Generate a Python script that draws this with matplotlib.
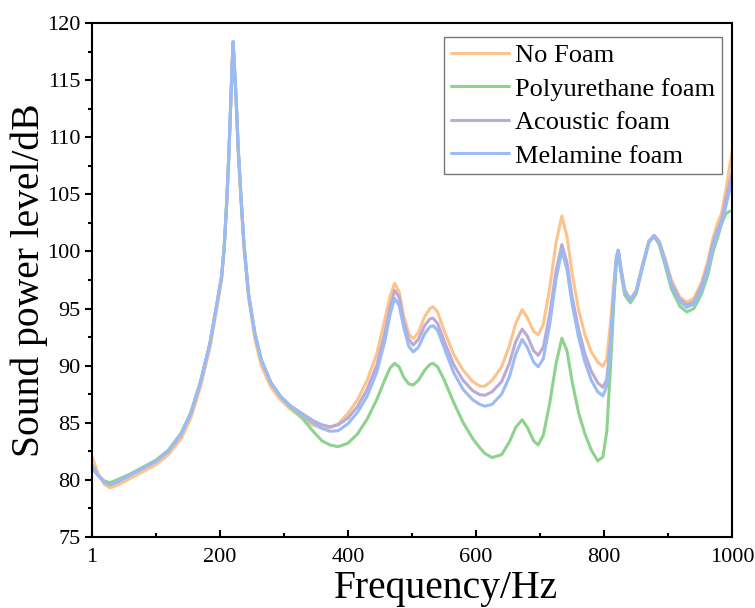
import matplotlib
matplotlib.use('Agg')
import matplotlib.pyplot as plt
import matplotlib.ticker as ticker

plt.rcParams['font.family'] = ['Liberation Serif', 'DejaVu Serif']

# frequency grid (Hz)
freq = [1, 10, 20, 29, 40, 60, 80, 100, 120, 140,
        155, 170, 185, 195, 203, 207, 211, 214, 217.5, 219.5,
        221, 223, 225.8, 229, 233.6, 238, 245, 255, 265, 280,
        295, 310, 326, 345, 360, 372, 385, 400, 415, 430,
        445, 458, 466, 473, 480, 487, 495, 502, 510, 520,
        528, 533, 540, 550, 565, 580, 595, 606, 614, 625,
        640, 652, 662, 672, 680, 690, 697, 705, 715, 725,
        734, 742, 750, 760, 770, 780, 790, 798, 804, 810,
        815, 819, 822, 826, 832, 841, 850, 860, 870, 878,
        886, 895, 905, 918, 929, 940, 952, 962, 970, 977,
        983, 990, 995, 1000]

no_foam = [82.0, 80.6, 79.6, 79.3, 79.5, 80.1, 80.7, 81.3, 82.2, 83.6,
           85.4, 88.1, 91.6, 94.8, 97.5, 100.1, 104.1, 107.8, 113.2, 116.3,
           118.3, 116.0, 113.0, 108.6, 104.1, 100.2, 96.0, 92.3, 90.0, 88.1,
           87.0, 86.2, 85.5, 84.8, 84.5, 84.55, 84.9, 85.8, 87.0, 88.7,
           91.0, 94.1, 96.1, 97.2, 96.5, 94.4, 92.8, 92.35, 92.9, 94.3,
           95.0, 95.15, 94.7, 93.1, 91.0, 89.6, 88.6, 88.2, 88.2, 88.7,
           89.9, 91.7, 93.7, 94.9, 94.2, 93.0, 92.7, 93.6, 96.8, 100.8,
           103.1, 101.3, 98.1, 94.9, 92.7, 91.2, 90.3, 89.95, 90.6, 93.8,
           97.2, 99.6, 100.1, 98.6, 96.7, 95.85, 96.6, 98.9, 100.9, 101.4,
           100.9, 99.4, 97.5, 96.0, 95.55, 95.9, 97.3, 99.2, 101.2, 102.5,
           103.3, 105.4, 107.2, 108.9]

polyurethane = [81.0, 80.4, 79.9, 79.75, 80.0, 80.5, 81.1, 81.7, 82.6, 84.1,
                85.9, 88.6, 92.0, 95.2, 97.8, 100.3, 104.3, 108.0, 113.3, 116.4,
                118.3, 116.2, 113.3, 109.0, 104.5, 100.6, 96.3, 92.8, 90.5, 88.5,
                87.3, 86.4, 85.6, 84.3, 83.4, 83.05, 82.9, 83.2, 84.0, 85.3,
                87.0, 88.8, 89.8, 90.2, 89.9, 89.0, 88.4, 88.3, 88.7, 89.6,
                90.1, 90.2, 89.9, 88.8, 86.8, 85.0, 83.6, 82.8, 82.3, 81.95,
                82.2, 83.3, 84.6, 85.25, 84.6, 83.4, 83.05, 83.9, 86.7, 90.2,
                92.4, 91.3, 88.6, 85.9, 84.0, 82.6, 81.65, 82.0, 84.2, 90.0,
                95.5, 99.0, 100.0, 98.2, 96.2, 95.5, 96.3, 98.6, 100.8, 101.3,
                100.6, 98.8, 96.7, 95.2, 94.7, 95.0, 96.3, 98.0, 100.0, 101.2,
                102.4, 103.3, 103.5, 103.5]

acoustic = [81.2, 80.4, 79.8, 79.55, 79.8, 80.4, 81.0, 81.6, 82.5, 84.0,
            85.8, 88.5, 92.0, 95.2, 97.8, 100.3, 104.3, 108.0, 113.3, 116.4,
            118.3, 116.2, 113.3, 109.0, 104.5, 100.6, 96.3, 92.8, 90.5, 88.5,
            87.3, 86.5, 85.9, 85.2, 84.8, 84.65, 84.8, 85.4, 86.4, 87.9,
            90.0, 92.9, 95.1, 96.6, 96.0, 93.9, 92.3, 91.8, 92.3, 93.5,
            94.1, 94.15, 93.7, 92.2, 90.1, 88.7, 87.8, 87.45, 87.4, 87.7,
            88.6, 90.2, 92.1, 93.2, 92.6, 91.3, 90.9, 91.6, 94.5, 98.3,
            100.6, 99.0, 96.0, 93.2, 91.0, 89.5, 88.5, 88.1, 88.8, 92.3,
            96.5, 99.4, 100.1, 98.5, 96.5, 95.75, 96.5, 98.8, 100.9, 101.4,
            100.8, 99.2, 97.2, 95.8, 95.3, 95.6, 97.0, 98.8, 100.8, 101.9,
            102.7, 104.6, 105.8, 107.0]

melamine = [81.3, 80.4, 79.8, 79.55, 79.8, 80.4, 81.0, 81.6, 82.5, 84.0,
            85.8, 88.5, 92.0, 95.2, 97.8, 100.3, 104.3, 108.0, 113.3, 116.4,
            118.4, 116.2, 113.3, 109.0, 104.5, 100.6, 96.3, 92.8, 90.5, 88.5,
            87.3, 86.5, 85.8, 85.0, 84.5, 84.25, 84.3, 84.9, 85.9, 87.3,
            89.4, 92.2, 94.5, 95.9, 95.3, 93.4, 91.7, 91.2, 91.6, 92.8,
            93.4, 93.5, 93.1, 91.6, 89.4, 87.9, 87.0, 86.6, 86.45, 86.6,
            87.5, 89.0, 91.0, 92.3, 91.6, 90.3, 89.9, 90.6, 93.6, 97.6,
            100.1, 98.4, 95.4, 92.5, 90.3, 88.7, 87.7, 87.35, 88.2, 91.8,
            96.2, 99.3, 100.1, 98.5, 96.5, 95.75, 96.5, 98.8, 100.9, 101.4,
            100.8, 99.1, 97.1, 95.6, 95.1, 95.4, 96.7, 98.5, 100.4, 101.6,
            102.4, 104.0, 105.2, 106.3]

labels = ['No Foam', 'Polyurethane foam', 'Acoustic foam', 'Melamine foam']
colors = ['#FCC48C', '#8ED38D', '#BBAAD6', '#9BBBF4']
series = [no_foam, polyurethane, acoustic, melamine]

fig = plt.figure(figsize=(7.55, 6.08), dpi=100)
ax = fig.add_axes([0.122, 0.117, 0.848, 0.845])

for ys, c, lab in zip(series, colors, labels):
    ax.plot(freq, ys, color=c, lw=2.2, label=lab,
            solid_joinstyle='round', solid_capstyle='round')

ax.set_xlim(1, 1000)
ax.set_ylim(75, 120)
ax.set_xticks([1, 200, 400, 600, 800, 1000])
ax.xaxis.set_minor_locator(ticker.FixedLocator([100, 300, 500, 700, 900]))
ax.yaxis.set_major_locator(ticker.MultipleLocator(5))
ax.yaxis.set_minor_locator(ticker.MultipleLocator(2.5))

for s in ax.spines.values():
    s.set_linewidth(1.5)
ax.tick_params(axis='x', which='both', direction='in', top=False, labelsize=16, pad=8)
ax.tick_params(axis='y', which='both', direction='out', right=False, labelsize=16)
ax.tick_params(which='major', length=5, width=1.5)
ax.tick_params(which='minor', length=3, width=1.5)

ax.set_xlabel('Frequency/Hz', fontsize=28.5, labelpad=3)
ax.xaxis.set_label_coords(0.553, -0.065)
ax.set_ylabel('Sound power level/dB', fontsize=28.5, labelpad=-1)

leg = ax.legend(loc='upper right', bbox_to_anchor=(0.984, 0.973), fontsize=19,
                frameon=True, fancybox=False, edgecolor='#555555',
                handlelength=2.2, handletextpad=0.25, labelspacing=0.38,
                borderpad=0.25, borderaxespad=0.0)
leg.get_frame().set_linewidth(1.0)

fig.savefig('out.png', dpi=100)
